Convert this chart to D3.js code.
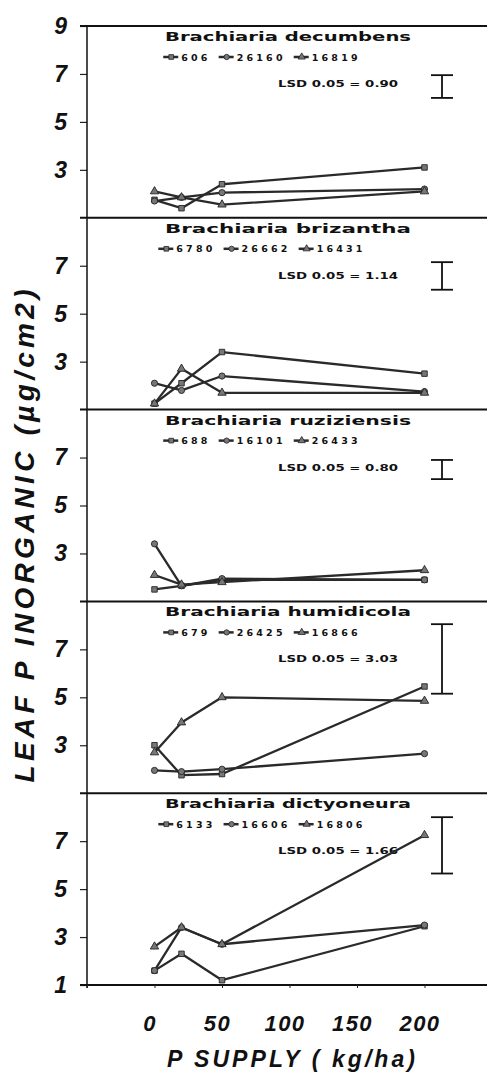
<!DOCTYPE html>
<html>
<head>
<meta charset="utf-8">
<script src="https://cdn.jsdelivr.net/npm/d3@7"></script>
<style>
body { margin: 0; background: #fff; }
.tick text { font-family: "Liberation Sans", Arial, sans-serif; font-weight: bold; font-style: italic; fill: #111; }
</style>
</head>
<body>
<script>
// leaf inorganic P by P supply, 5 Brachiaria species, 3 accessions each
const supply = [0, 20, 50, 200];
const species = ["Brachiaria decumbens", "Brachiaria brizantha", "Brachiaria ruziziensis", "Brachiaria humidicola", "Brachiaria dictyoneura"];
const accessions = [["606", "26160", "16819"], ["6780", "26662", "16431"], ["688", "16101", "26433"], ["679", "26425", "16866"], ["6133", "16606", "16806"]];
const seriesA = [[1.75, 1.4, 2.4, 3.1], [1.25, 2.1, 3.4, 2.5], [1.5, 1.65, 1.9, 1.9], [3.0, 1.75, 1.8, 5.45], [1.6, 2.3, 1.2, 3.45]];
const seriesB = [[1.7, 1.85, 2.05, 2.2], [2.1, 1.8, 2.4, 1.75], [3.4, 1.65, 1.95, 1.9], [1.95, 1.9, 2.0, 2.65], [1.6, 3.4, 2.7, 3.5]];
const seriesC = [[2.1, 1.85, 1.55, 2.1], [1.25, 2.7, 1.7, 1.7], [2.1, 1.7, 1.8, 2.3], [2.7, 3.95, 5.0, 4.85], [2.6, 3.4, 2.7, 7.25]];
const lsdValues = ["0.90", "1.14", "0.80", "3.03", "1.66"];
const lsdBars = [[6.0, 6.95], [6.0, 7.15], [6.1, 6.9], [5.15, 8.05], [5.65, 8.0]];
const yTickSets = [[3, 5, 7, 9], [3, 5, 7], [3, 5, 7], [3, 5, 7], [1, 3, 5, 7]];
const xTicks = [-50, 0, 50, 100, 150, 200];

var width = 487, height = 1076;
var left = 87, top_y = 26, bottom_y = 985;
var panel_h = (bottom_y - top_y) / species.length;

var svg = d3.select('body').append('svg').attr('width', width).attr('height', height);

var x = d3.scaleLinear().domain([-50, 250]).range([left, 492]);
var symbols = [d3.symbolSquare, d3.symbolCircle, d3.symbolTriangle];
var line_col = '#2a2a2a';

species.forEach((name, i) => {
	var ptop = top_y + i * panel_h;
	var y = d3.scaleLinear().domain([1, 9]).range([ptop + panel_h, ptop]);
	var g = svg.append('g').attr('class', 'panel');

	// y axis ticks
	g.append('g')
		.attr('transform', 'translate(' + left + ',0)')
		.call(d3.axisLeft(y).tickValues(yTickSets[i]).tickSize(7).tickPadding(13).tickFormat(d3.format('d')))
		.call(a => a.select('.domain').remove())
		.call(a => a.selectAll('.tick line').attr('stroke', '#222').attr('stroke-width', 1.2))
		.call(a => a.selectAll('.tick text').attr('font-size', 23));

	// title
	g.append('text')
		.attr('x', 288).attr('y', ptop + 15)
		.attr('text-anchor', 'middle')
		.attr('font-family', 'DejaVu Sans').attr('font-weight', 'bold').attr('font-size', 12)
		.attr('textLength', 246).attr('lengthAdjust', 'spacingAndGlyphs')
		.attr('fill', '#111')
		.text(name);

	// legend
	var leg = g.append('g');
	var cx = 0;
	accessions[i].forEach((acc, k) => {
		leg.append('line').attr('x1', cx).attr('x2', cx + 15).attr('y1', 0).attr('y2', 0)
			.attr('stroke', line_col).attr('stroke-width', 2.5);
		leg.append('path').attr('d', d3.symbol(symbols[k], 22)())
			.attr('transform', 'translate(' + (cx + 8) + ',0)')
			.attr('fill', '#777').attr('stroke', '#222').attr('stroke-width', 0.8);
		var t = leg.append('text').attr('x', cx + 18).attr('y', 3.5)
			.attr('font-family', 'DejaVu Sans').attr('font-weight', 'bold').attr('font-size', 9.5)
			.attr('letter-spacing', 3.2).attr('fill', '#111')
			.text(acc);
		cx += 18 + t.node().getComputedTextLength() + 8;
	});
	leg.attr('transform', 'translate(' + (266 - cx / 2) + ',' + (ptop + 31) + ')');

	// LSD text and bar
	g.append('text')
		.attr('x', 338).attr('y', ptop + 61)
		.attr('text-anchor', 'middle')
		.attr('font-family', 'DejaVu Sans').attr('font-weight', 'bold').attr('font-size', 8.5)
		.attr('textLength', 120).attr('lengthAdjust', 'spacingAndGlyphs')
		.attr('fill', '#111')
		.text('LSD 0.05 = ' + lsdValues[i]);
	var bx = 442;
	g.append('line').attr('x1', bx).attr('x2', bx).attr('y1', y(lsdBars[i][0])).attr('y2', y(lsdBars[i][1]))
		.attr('stroke', '#111').attr('stroke-width', 1.8);
	lsdBars[i].forEach(v => {
		g.append('line').attr('x1', bx - 11).attr('x2', bx + 11).attr('y1', y(v)).attr('y2', y(v))
			.attr('stroke', '#111').attr('stroke-width', 1.8);
	});

	// data lines
	var line = d3.line().x((d, j) => x(supply[j])).y(d => y(d));
	[seriesA[i], seriesB[i], seriesC[i]].forEach((vals, k) => {
		g.append('path').attr('d', line(vals))
			.attr('fill', 'none').attr('stroke', line_col).attr('stroke-width', 2.3)
			.attr('stroke-linejoin', 'round');
		g.selectAll('.m' + k).data(vals).enter().append('path')
			.attr('class', 'm' + k)
			.attr('d', d3.symbol(symbols[k], 30)())
			.attr('transform', (d, j) => 'translate(' + x(supply[j]) + ',' + y(d) + ')')
			.attr('fill', '#777').attr('stroke', '#222').attr('stroke-width', 0.9);
	});
});

// panel boundary lines and left axis
d3.range(species.length + 1).forEach(i => {
	var yy = top_y + i * panel_h;
	svg.append('line').attr('x1', 80).attr('x2', width).attr('y1', yy).attr('y2', yy)
		.attr('stroke', '#111').attr('stroke-width', 2);
});
svg.append('line').attr('x1', left).attr('x2', left).attr('y1', top_y).attr('y2', bottom_y + 3)
	.attr('stroke', '#111').attr('stroke-width', 1.5);

// x axis
svg.append('g')
	.attr('transform', 'translate(0,' + bottom_y + ')')
	.call(d3.axisBottom(x).tickValues(xTicks).tickSize(3).tickPadding(27).tickFormat(d => d < 0 ? '' : d))
	.call(a => a.select('.domain').remove())
	.call(a => a.selectAll('.tick line').attr('stroke', '#222'))
	.call(a => a.selectAll('.tick text').attr('font-size', 22).attr('letter-spacing', 1.5).attr('dx', -5));

svg.append('text')
	.attr('x', 291).attr('y', 1067)
	.attr('text-anchor', 'middle')
	.attr('font-family', 'Liberation Sans').attr('font-weight', 'bold').attr('font-style', 'italic')
	.attr('font-size', 23).attr('textLength', 248).attr('lengthAdjust', 'spacing')
	.attr('fill', '#111')
	.text('P SUPPLY ( kg/ha)');

svg.append('text')
	.attr('transform', 'translate(34,536) rotate(-90)')
	.attr('text-anchor', 'middle')
	.attr('font-family', 'Liberation Sans').attr('font-weight', 'bold').attr('font-style', 'italic')
	.attr('font-size', 28).attr('textLength', 493).attr('lengthAdjust', 'spacing')
	.attr('fill', '#111')
	.text('LEAF P INORGANIC (µg/cm2)');
</script>
</body>
</html>
